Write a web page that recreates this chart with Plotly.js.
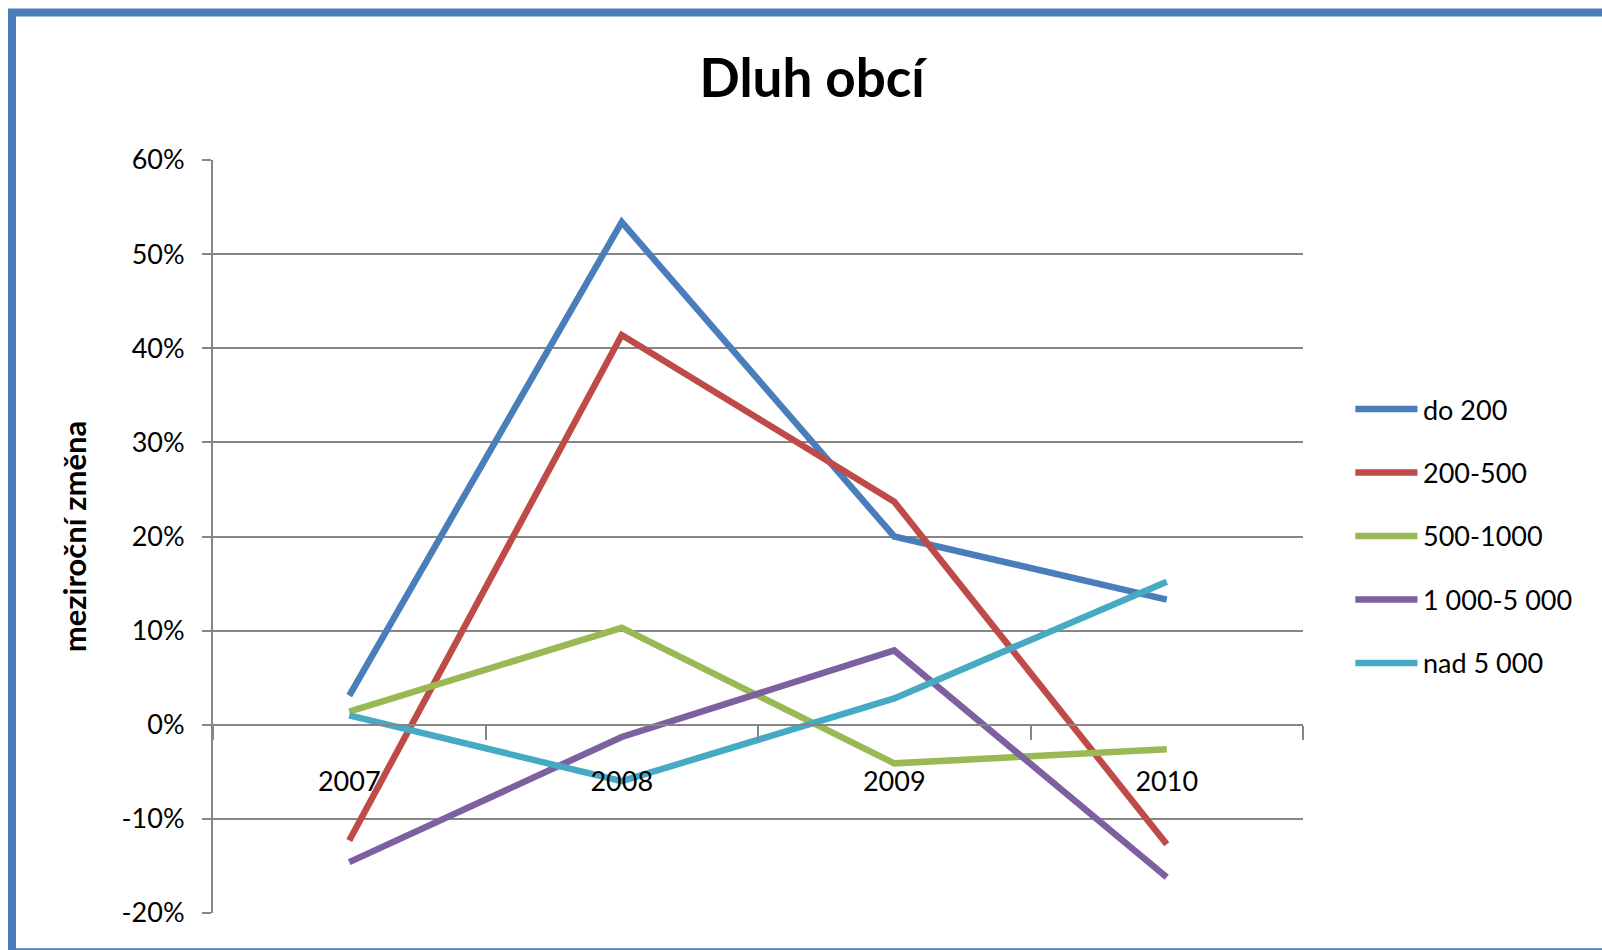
<!DOCTYPE html>
<html>
<head>
<meta charset="utf-8">
<script src="https://cdn.plot.ly/plotly-3.0.1.min.js"></script>
<style>
  html, body { margin: 0; padding: 0; background: #fff; }
  #plot { width: 1602px; height: 950px; }
</style>
</head>
<body>
<div id="plot"></div>
<script>
// years and yearly change of municipal debt by size group
var years = ['2007', '2008', '2009', '2010'];
var names = ['do 200', '200-500', '500-1000', '1 000-5 000', 'nad 5 000'];
var do200 = [0.031, 0.534, 0.200, 0.133];
var s200_500 = [-0.123, 0.414, 0.237, -0.127];
var s500_1000 = [0.014, 0.103, -0.041, -0.026];
var s1000_5000 = [-0.146, -0.013, 0.079, -0.162];
var nad5000 = [0.010, -0.060, 0.028, 0.152];
var colors = ['#4a7ebb', '#be4b48', '#98b954', '#7d60a0', '#46aac5'];

var yTicks = [-0.2, -0.1, 0, 0.1, 0.2, 0.3, 0.4, 0.5, 0.6];
var yLabels = ['-20%', '-10%', '0%', '10%', '20%', '30%', '40%', '50%', '60%'];

var series = [do200, s200_500, s500_1000, s1000_5000, nad5000];
var font = 'Lato, "Open Sans", sans-serif';

var traces = series.map(function (vals, i) {
  return {
    x: years,
    y: vals,
    name: names[i],
    type: 'scatter',
    mode: 'lines',
    line: {color: colors[i], width: 6.5},
    showlegend: false
  };
});

// hand-made legend so the keys get the long Excel-style lines
var shapes = [];
var annotations = [];
names.forEach(function (n, i) {
  var y = 0.6693 - i * 0.0843;
  shapes.push({
    type: 'line', xref: 'paper', yref: 'paper',
    x0: 1.048, x1: 1.105, y0: y, y1: y,
    line: {color: colors[i], width: 6.5}
  });
  annotations.push({
    xref: 'paper', yref: 'paper', x: 1.108, y: y,
    xanchor: 'left', yanchor: 'middle', showarrow: false,
    text: n, font: {family: font, size: 27, color: '#000'}
  });
});

// blue frame round the chart
shapes.push({
  type: 'rect', xref: 'paper', yref: 'paper',
  x0: -0.1844, x1: 1.3, y0: -0.052, y1: 1.1959,
  line: {color: '#4a7ebb', width: 8}
});

var layout = {
  width: 1602,
  height: 950,
  margin: {l: 213, r: 299, t: 160, b: 37},
  paper_bgcolor: '#fff',
  plot_bgcolor: '#fff',
  font: {family: font, color: '#000'},
  title: {
    text: 'Dluh obcí',
    font: {family: font, size: 53, weight: 'bold', color: '#000'},
    xref: 'container', yref: 'container',
    x: 0.507, y: 0.917, xanchor: 'center', yanchor: 'middle'
  },
  xaxis: {
    type: 'category',
    range: [-0.5, 3.5],
    anchor: 'free',
    position: 0.25,
    showgrid: false,
    zeroline: false,
    showline: true,
    linecolor: '#868686',
    linewidth: 2,
    ticks: 'outside',
    tickson: 'boundaries',
    ticklen: 14,
    tickcolor: '#868686',
    tickwidth: 2,
    ticklabelstandoff: 33,
    tickfont: {family: font, size: 27, color: '#000'}
  },
  yaxis: {
    range: [-0.2, 0.6],
    tickvals: yTicks,
    ticktext: yLabels,
    showgrid: true,
    gridcolor: '#868686',
    gridwidth: 2,
    zeroline: false,
    showline: true,
    linecolor: '#868686',
    linewidth: 2,
    ticks: 'outside',
    ticklen: 9,
    tickcolor: '#868686',
    tickwidth: 2,
    ticklabelstandoff: 12,
    tickfont: {family: font, size: 27, color: '#000'},
    automargin: true,
    title: {
      text: 'meziroční změna',
      font: {family: font, size: 31, weight: 'bold', color: '#000'},
      standoff: 26
    }
  },
  shapes: shapes,
  annotations: annotations
};

Plotly.newPlot('plot', traces, layout, {displayModeBar: false, staticPlot: true});
</script>
</body>
</html>
